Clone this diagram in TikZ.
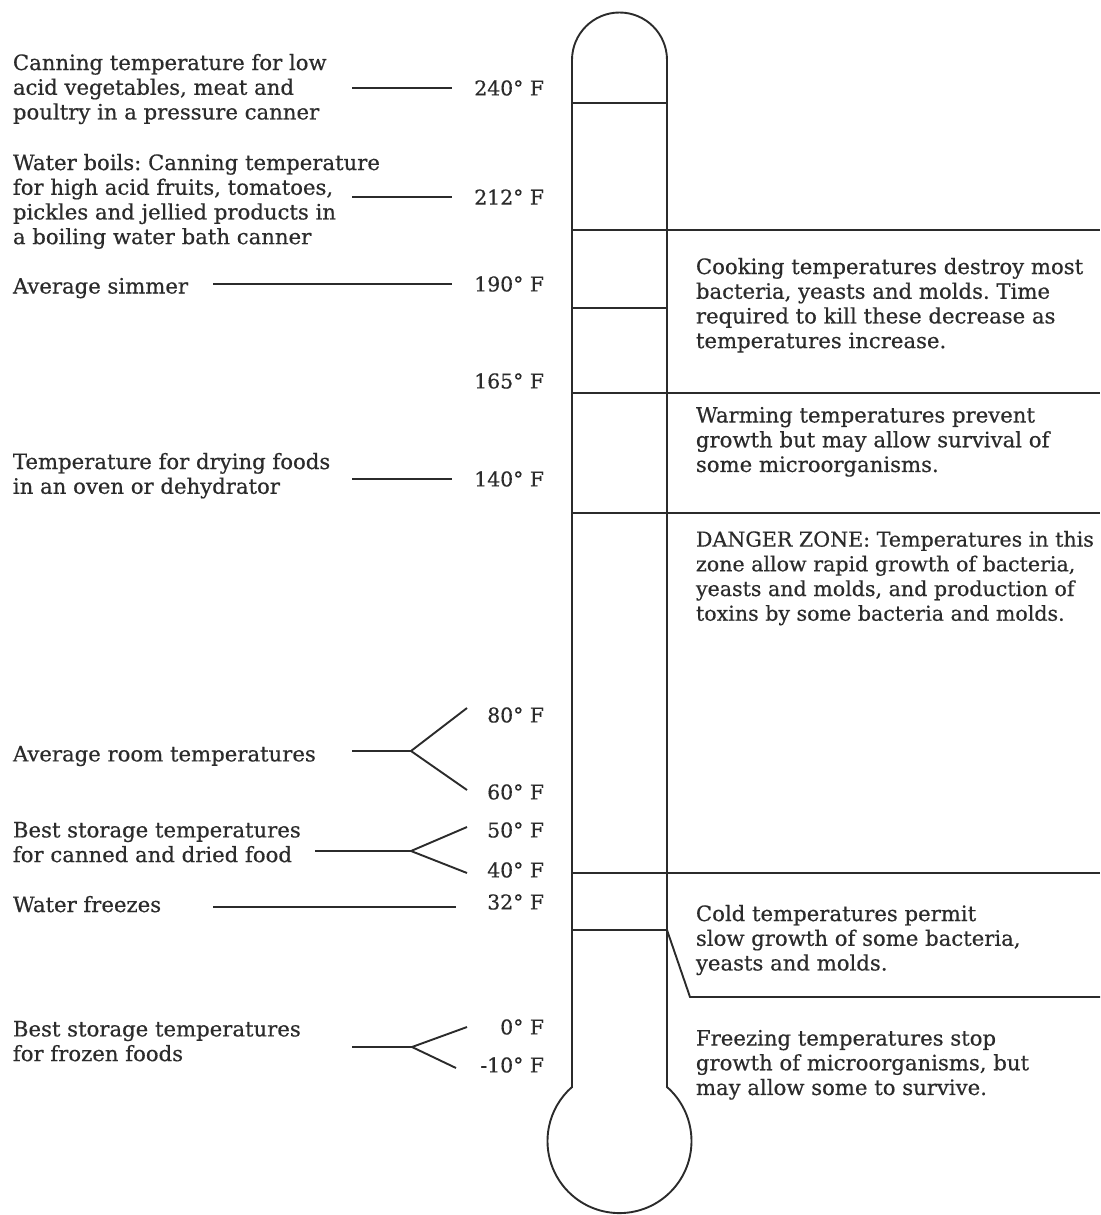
\documentclass[tikz,border=0pt]{standalone}
\usepackage{fontspec}
\setmainfont{DejaVu Serif}[RawFeature={embolden=0.5}]
\usepackage{xcolor}
\usepackage{tikz}
\definecolor{inkGray}{rgb}{0.17,0.17,0.17}
\frenchspacing

\begin{document}
\begin{tikzpicture}[x=0.5pt,y=-0.5pt,line width=0.95pt,color=inkGray]
  \tikzstyle{note}=[anchor=north west,align=left,inner sep=0pt,font=\fontsize{10.6}{12.35}\selectfont]
  \tikzstyle{temp}=[anchor=east,inner sep=0pt,font=\fontsize{10.2}{12.35}\selectfont]
  \tikzstyle{lead}=[draw,shorten >=10.5pt]

  \useasboundingbox (0,0) rectangle (1100,1215);

  % thermometer
  \draw (572,1087) -- (572,60) arc (180:360:47.5) -- (667,1087) arc (-48.7:228.7:72) -- cycle;
  \draw (572,103) -- (667,103);
  \draw (572,230) -- (1100,230);
  \draw (572,308) -- (667,308);
  \draw (572,393) -- (1100,393);
  \draw (572,513) -- (1100,513);
  \draw (572,873) -- (1100,873);
  \draw (572,930) -- (667,930) -- (690,997) -- (1100,997);

  % temperatures
  \node[temp] (t240) at (545,88)   {240° F};
  \node[temp] (t212) at (545,197)  {212° F};
  \node[temp] (t190) at (545,284)  {190° F};
  \node[temp] (t165) at (545,381)  {165° F};
  \node[temp] (t140) at (545,479)  {140° F};
  \node[temp] (t80)  at (545,715)  {80° F};
  \node[temp] (t60)  at (545,792)  {60° F};
  \node[temp] (t50)  at (545,830)  {50° F};
  \node[temp] (t40)  at (545,870)  {40° F};
  \node[temp] (t32)  at (545,902)  {32° F};
  \node[temp] (t0)   at (545,1027) {0° F};
  \node[temp] (tm10) at (545,1065) {-10° F};

  % left notes
  \node[note] (canning) at (12,53)   {Canning temperature for low\\acid vegetables, meat and\\poultry in a pressure canner};
  \node[note] (boils)   at (12,153)  {Water boils: Canning temperature\\for high acid fruits, tomatoes,\\pickles and jellied products in\\a boiling water bath canner};
  \node[note] (simmer)  at (12,277)  {Average simmer};
  \node[note] (drying)  at (12,452)  {Temperature for drying foods\\in an oven or dehydrator};
  \node[note] (room)    at (12,745)  {Average room temperatures};
  \node[note] (canned)  at (12,821)  {Best storage temperatures\\for canned and dried food};
  \node[note] (freezes) at (12,895)  {Water freezes};
  \node[note] (frozen)  at (12,1020) {Best storage temperatures\\for frozen foods};

  % right notes
  \node[note] (cooking)  at (695,257)  {Cooking temperatures destroy most\\bacteria, yeasts and molds. Time\\required to kill these decrease as\\temperatures increase.};
  \node[note] (warming)  at (695,406)  {Warming temperatures prevent\\growth but may allow survival of\\some microorganisms.};
  \node[note,font=\fontsize{10.3}{12.35}\selectfont] (danger) at (695,530) {DANGER ZONE: Temperatures in this\\zone allow rapid growth of bacteria,\\yeasts and molds, and production of\\toxins by some bacteria and molds.};
  \node[note] (cold)     at (695,904)  {Cold temperatures permit\\slow growth of some bacteria,\\yeasts and molds.};
  \node[note] (freezing) at (695,1029) {Freezing temperatures stop\\growth of microorganisms, but\\may allow some to survive.};

  % leads
  \coordinate (s240) at (352,88);
  \coordinate (s212) at (352,197);
  \coordinate (s190) at (213,284);
  \coordinate (s140) at (352,479);
  \coordinate (s32)  at (213,907);
  \draw[lead] (s240) -- (s240 -| t240.west);
  \draw[lead] (s212) -- (s212 -| t212.west);
  \draw[lead] (s190) -- (s190 -| t190.west);
  \draw[lead] (s140) -- (s140 -| t140.west);
  \draw[lead,shorten >=15pt] (s32) -- (s32 -| t32.west);

  \coordinate (sroom)   at (352,751);
  \coordinate (froom)   at (411,751);
  \coordinate (e80)     at (467,708);
  \coordinate (e60)     at (467,790);
  \draw (sroom) -- (froom) -- (e80);
  \draw (froom) -- (e60);

  \coordinate (scanned) at (315,851);
  \coordinate (fcanned) at (411,851);
  \coordinate (e50)     at (467,827);
  \coordinate (e40)     at (467,873);
  \draw (scanned) -- (fcanned) -- (e50);
  \draw (fcanned) -- (e40);

  \coordinate (sfrozen) at (352,1047);
  \coordinate (ffrozen) at (412,1047);
  \coordinate (e0)      at (467,1027);
  \coordinate (em10)    at (456,1068);
  \draw (sfrozen) -- (ffrozen) -- (e0);
  \draw (ffrozen) -- (em10);
\end{tikzpicture}
\end{document}
